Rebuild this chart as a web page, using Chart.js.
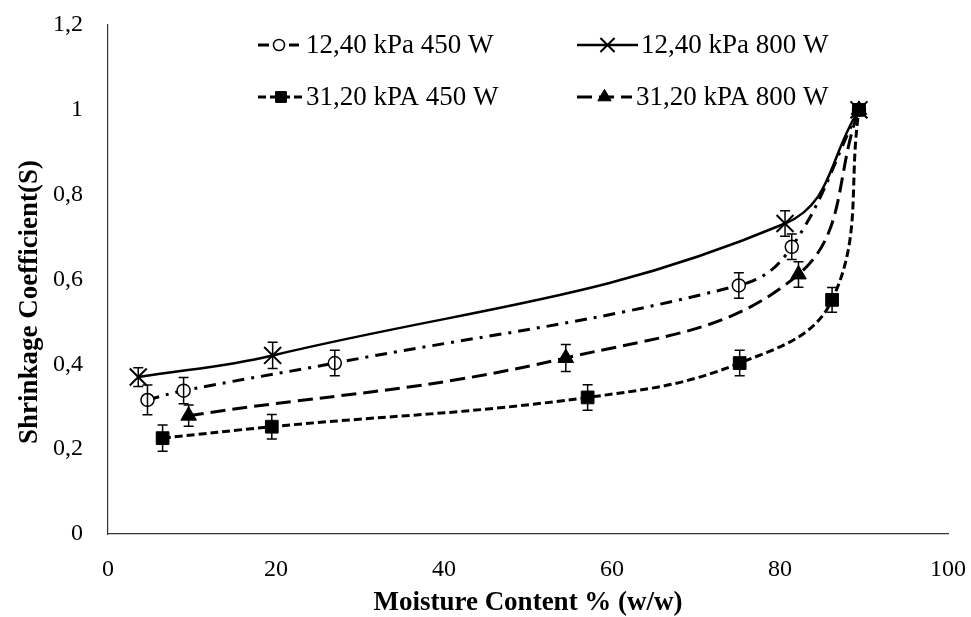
<!DOCTYPE html>
<html><head><meta charset="utf-8">
<script src="https://cdn.jsdelivr.net/npm/chart.js@4.4.1/dist/chart.umd.min.js"></script>
<style>html,body{margin:0;padding:0;background:#fff;}#wrap{width:971px;height:617px;}</style>
</head><body><div id="wrap"><canvas id="c" width="971" height="617"></canvas></div>
<script>
// ---- data ----
const xTicks = [0, 20, 40, 60, 80, 100];
const yTicks = [0, 0.2, 0.4, 0.6, 0.8, 1.0, 1.2];
const seriesNames = ['12,40 kPa 450 W', '12,40 kPa 800 W', '31,20 kPA 450 W', '31,20 kPA 800 W'];
const xTitle = 'Moisture Content % (w/w)';
const yTitle = 'Shrinkage Coefficient(S)';

const xLow450 = [4.7, 9.0, 27.0, 75.1, 81.4, 89.4];
const yLow450 = [0.316, 0.338, 0.403, 0.586, 0.677, 1.0];
const eLow450 = [0.035, 0.031, 0.030, 0.030, 0.030, 0];

const xLow800 = [3.6, 19.6, 80.6, 89.4];
const yLow800 = [0.370, 0.421, 0.732, 1.0];
const eLow800 = [0.022, 0.031, 0.030, 0];

const xHigh450 = [6.5, 19.5, 57.1, 75.2, 86.2, 89.4];
const yHigh450 = [0.226, 0.253, 0.322, 0.403, 0.552, 1.0];
const eHigh450 = [0.031, 0.029, 0.030, 0.030, 0.029, 0];

const xHigh800 = [9.6, 54.5, 82.2, 89.4];
const yHigh800 = [0.279, 0.415, 0.612, 1.0];
const eHigh800 = [0.025, 0.032, 0.030, 0];

const errs = [eLow450, eLow800, eHigh450, eHigh800];
const xsAll = [xLow450, xLow800, xHigh450, xHigh800];
const ysAll = [yLow450, yLow800, yHigh450, yHigh800];

function pts(xs, ys) { return xs.map((x, i) => ({x: x, y: ys[i]})); }
const FONT = '"Liberation Serif", "Times New Roman", serif';
const fmt = v => String(Number(v.toFixed(1))).replace('.', ',');

const styles = [
  {borderDash: [12, 7, 3, 7], pointStyle: 'circle', pointRadius: 6.5, pointBackgroundColor: '#fff', pointBorderWidth: 1.5, borderWidth: 3},
  {borderDash: [], pointStyle: 'crossRot', pointRadius: 12, pointBackgroundColor: '#000', pointBorderWidth: 2, borderWidth: 2.5},
  {borderDash: [8, 4], pointStyle: 'rect', pointRadius: 9, pointBackgroundColor: '#000', pointBorderWidth: 1, borderWidth: 3},
  {borderDash: [15, 7], pointStyle: 'triangle', pointRadius: 9, pointBackgroundColor: '#000', pointBorderWidth: 1, borderWidth: 3}
];

const datasets = seriesNames.map((name, i) => Object.assign({
  label: name,
  data: pts(xsAll[i], ysAll[i]),
  showLine: true,
  tension: 0.4,
  borderColor: '#000',
  pointBorderColor: '#000',
  fill: false,
  order: i === 2 ? 0 : 1
}, styles[i]));

const errorBars = {
  id: 'errorBars',
  afterDatasetsDraw(chart) {
    const ctx = chart.ctx, xs = chart.scales.x, ys = chart.scales.y;
    ctx.save();
    ctx.strokeStyle = '#000';
    ctx.lineWidth = 1.5;
    ctx.setLineDash([]);
    errs.forEach((e, i) => {
      e.forEach((ev, j) => {
        if (!ev) return;
        const px = xs.getPixelForValue(xsAll[i][j]);
        const t = ys.getPixelForValue(ysAll[i][j] + ev);
        const b = ys.getPixelForValue(ysAll[i][j] - ev);
        ctx.beginPath();
        ctx.moveTo(px, t); ctx.lineTo(px, b);
        ctx.moveTo(px - 5, t); ctx.lineTo(px + 5, t);
        ctx.moveTo(px - 5, b); ctx.lineTo(px + 5, b);
        ctx.stroke();
      });
    });
    ctx.restore();
  }
};

const yTitlePlugin = {
  id: 'yTitlePlugin',
  afterDraw(chart) {
    const ctx = chart.ctx;
    ctx.save();
    ctx.translate(30, 302);
    ctx.rotate(-Math.PI / 2);
    ctx.font = 'bold 27px ' + FONT;
    ctx.fillStyle = '#000';
    ctx.textAlign = 'center';
    ctx.textBaseline = 'middle';
    ctx.fillText(yTitle, 0, 0);
    ctx.restore();
  }
};

const customLegend = {
  id: 'customLegend',
  afterDraw(chart) {
    const ctx = chart.ctx;
    const items = [
      {ds: 0, x0: 258, x1: 300, tx: 306, y: 45},
      {ds: 1, x0: 577, x1: 638, tx: 641, y: 45},
      {ds: 2, x0: 258, x1: 304, tx: 306, y: 97},
      {ds: 3, x0: 577, x1: 632, tx: 636, y: 97}
    ];
    ctx.save();
    items.forEach(it => {
      const d = chart.data.datasets[it.ds];
      ctx.strokeStyle = '#000';
      ctx.lineWidth = d.borderWidth;
      ctx.setLineDash(d.borderDash);
      ctx.beginPath(); ctx.moveTo(it.x0, it.y); ctx.lineTo(it.x1, it.y); ctx.stroke();
      ctx.setLineDash([]);
      const cx = (it.x0 + it.x1) / 2;
      if (d.pointStyle === 'circle') {
        ctx.fillStyle = '#fff';
        ctx.fillRect(cx - 10, it.y - 3, 20, 6);
      }
      ctx.fillStyle = d.pointBackgroundColor;
      ctx.lineWidth = d.pointBorderWidth;
      Chart.helpers.drawPoint(ctx, {pointStyle: d.pointStyle, radius: d.pointStyle === 'crossRot' ? 10 : d.pointRadius * 0.85, borderWidth: d.pointBorderWidth, rotation: 0}, cx, it.y);
      ctx.fillStyle = '#000';
      ctx.font = '27px ' + FONT;
      ctx.textBaseline = 'middle';
      ctx.textAlign = 'left';
      ctx.fillText(d.label, it.tx, it.y + 1);
    });
    ctx.restore();
  }
};

new Chart(document.getElementById('c'), {
  type: 'scatter',
  data: {datasets: datasets},
  options: {
    responsive: false,
    animation: false,
    devicePixelRatio: 1,
    layout: {autoPadding: false, padding: {top: 25, right: 23, left: 0, bottom: 0}},
    plugins: {legend: {display: false}, tooltip: {enabled: false}},
    scales: {
      x: {
        type: 'linear', min: 0, max: 100,
        afterBuildTicks: s => { s.ticks = xTicks.map(v => ({value: v})); },
        afterFit: s => { s.height = 83; s.paddingLeft = 0; s.paddingRight = 0; },
        ticks: {font: {family: FONT, size: 24}, color: '#000', padding: 21, maxRotation: 0},
        grid: {display: true, drawOnChartArea: false, drawTicks: false, color: 'rgba(0,0,0,0)'},
        border: {display: true, color: '#333', width: 1.2},
        title: {display: true, text: xTitle, color: '#000', font: {family: FONT, size: 27, weight: 'bold', lineHeight: 1.0}, padding: {top: 0, bottom: 0}}
      },
      y: {
        type: 'linear', min: 0, max: 1.2,
        afterBuildTicks: s => { s.ticks = yTicks.map(v => ({value: v})); },
        afterFit: s => { s.width = 108; s.paddingTop = 0; s.paddingBottom = 0; },
        ticks: {font: {family: FONT, size: 24}, color: '#000', padding: 25, callback: v => fmt(v)},
        grid: {display: true, drawOnChartArea: false, drawTicks: false, color: 'rgba(0,0,0,0)'},
        border: {display: true, color: '#333', width: 1.2},
        title: {display: false}
      }
    }
  },
  plugins: [errorBars, customLegend, yTitlePlugin]
});
</script></body></html>
